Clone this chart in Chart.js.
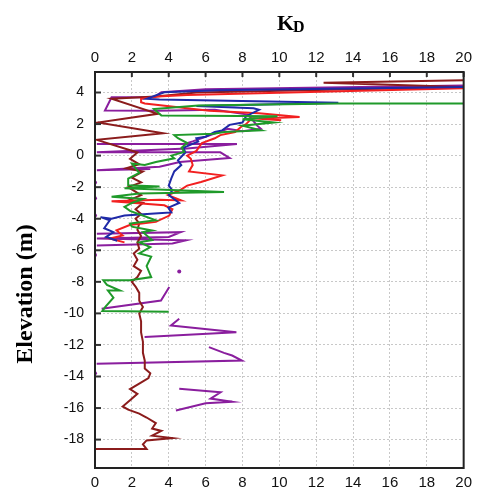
<!DOCTYPE html>
<html><head><meta charset="utf-8">
<script src="https://cdn.jsdelivr.net/npm/chart.js@4/dist/chart.umd.min.js"></script>
<style>html,body{margin:0;padding:0;background:#fff;}#wrap{position:relative;width:478px;height:491px;}</style>
</head><body><div id="wrap"><canvas id="c" width="478" height="491"></canvas></div>
<script>
const xTickValues = [0,2,4,6,8,10,12,14,16,18,20];
const yTickValues = [-18,-16,-14,-12,-10,-8,-6,-4,-2,0,2,4];
const xTitleMain = 'K';
const xTitleSub = 'D';
const yTitle = 'Elevation (m)';

const brownProfile = [[0,-18.6],[2.8,-18.6],[2.6,-18.3],[2.8,-18.05],[4.2,-17.9],[3.1,-17.75],[3.6,-17.45],[3.1,-17.3],[3.3,-16.95],[2.8,-16.6],[2.4,-16.35],[1.8,-16.1],[1.5,-15.9],[1.9,-15.5],[2.3,-15.1],[1.9,-14.8],[2.4,-14.45],[2.9,-14.1],[3.0,-13.8],[2.7,-13.5],[2.7,-13.0],[2.6,-12.5],[2.6,-11.8],[2.5,-11.2],[2.5,-10.5],[2.4,-10.0],[2.6,-9.6],[2.4,-9.2],[2.4,-8.7],[2.2,-8.3],[2.0,-8.0],[2.3,-7.7],[2.5,-7.3],[2.1,-7.0],[2.3,-6.6],[2.1,-6.2],[2.4,-5.9],[2.3,-5.5],[2.5,-5.1],[2.3,-4.7],[2.4,-4.3],[2.2,-4.0],[2.5,-3.7],[2.2,-3.4],[2.6,-3.0],[1.8,-2.85],[2.5,-2.5],[1.8,-2.0],[2.5,-1.7],[2.0,-1.4],[2.6,-1.0],[1.7,-0.8],[2.4,-0.55],[1.9,-0.2],[2.3,0.2],[0.1,1.0],[3.7,1.42],[0.15,2.1],[3.4,2.65],[0.9,3.6],[3.3,3.75],[5.5,4.0],[20,4.35],[12.4,4.62],[20,4.78]];

const blueProfile = [[1.2,-5.4],[0.6,-5.15],[1.0,-4.85],[0.5,-4.6],[0.8,-4.1],[0.3,-3.9],[0.9,-4.0],[1.6,-3.8],[3.44,-3.66],[4.14,-3.6],[3.98,-3.3],[4.57,-3.0],[4.0,-2.5],[4.2,-2.2],[4.0,-1.9],[4.14,-1.44],[4.3,-1.0],[4.68,-0.6],[4.5,-0.3],[4.9,0.2],[4.8,0.5],[5.2,0.7],[5.6,0.9],[5.5,1.1],[6.0,1.2],[6.5,1.5],[6.9,1.6],[7.3,1.95],[8.0,2.1],[8.2,2.5],[8.9,2.9],[8.6,3.0],[5.5,3.15],[13.2,3.35],[3.5,3.55],[2.8,3.6],[3.76,4.02],[6.7,4.15],[20,4.35]];

const redProfile = [[1.6,-5.5],[0.8,-5.25],[1.5,-5.06],[1.17,-4.74],[1.88,-4.4],[3.3,-4.2],[4.03,-3.8],[4.2,-3.4],[3.76,-3.15],[0.9,-2.9],[3.5,-2.8],[4.68,-2.84],[3.96,-2.5],[4.6,-2.2],[5.0,-1.9],[5.75,-1.67],[6.9,-1.25],[5.1,-1.0],[5.3,-0.6],[5.2,-0.2],[5.0,0.0],[5.5,0.3],[5.8,0.8],[6.5,1.1],[6.8,1.3],[7.6,1.5],[7.9,1.8],[8.2,2.0],[8.5,2.37],[10.1,2.24],[8.9,2.35],[11.1,2.45],[8.9,2.68],[6.2,2.85],[2.7,3.3],[2.5,3.38],[2.5,3.6],[3.4,3.75],[5.0,3.85],[20,4.27]];

const greenProfile = [[4.0,-9.9],[0.4,-9.85],[0.55,-9.6],[1.0,-9.0],[0.7,-8.55],[1.35,-8.55],[0.65,-8.2],[0.45,-7.9],[1.9,-7.9],[3.05,-7.7],[2.8,-7.0],[3.05,-6.4],[2.4,-6.2],[3.0,-5.8],[2.4,-5.5],[3.1,-5.35],[2.6,-4.85],[3.1,-4.75],[2.0,-4.5],[1.9,-4.3],[3.3,-4.1],[1.9,-3.5],[1.6,-3.25],[2.0,-3.0],[2.6,-2.75],[0.9,-2.6],[2.4,-2.4],[7.0,-2.3],[1.6,-2.07],[3.5,-1.95],[1.8,-1.88],[1.8,-1.45],[2.4,-1.1],[2.0,-0.5],[2.7,-0.6],[3.3,-0.4],[4.3,-0.17],[4.14,0.0],[4.84,0.23],[4.7,0.5],[5.0,0.8],[4.5,1.1],[4.3,1.3],[6.45,1.38],[7.0,1.5],[9.0,1.6],[8.0,1.9],[9.7,2.1],[8.0,2.3],[9.9,2.5],[3.6,2.54],[3.2,2.95],[5.6,3.17],[13.2,3.3],[20,3.3]];

const purpleProfile = [[20,4.45],[6.0,4.2],[3.6,4.02],[3.2,3.7],[0.9,3.7],[0.54,2.86],[3.4,2.85],[6.5,2.9],[8.3,2.6],[8.8,1.9],[9.0,1.7],[8.0,1.55],[7.2,1.7],[6.0,1.2],[5.3,0.9],[4.9,0.75],[0.1,0.74],[7.7,0.74],[5.0,0.45],[0.1,0.21],[6.8,0.21],[7.3,-0.15],[4.6,-0.4],[3.5,-0.7],[0.1,-0.93],[3.0,-0.85],
  null,[0.1,-4.95],[4.66,-4.85],[4.0,-5.16],[0.1,-5.26],[4.93,-5.37],[4.2,-5.57],[0.1,-5.69],
  null,[4.03,-8.33],[3.58,-9.18],[0.36,-9.7],
  null,[4.57,-10.34],[4.12,-10.77],[7.67,-11.19],[2.69,-11.5],
  null,[6.18,-12.14],[7.0,-12.5],[7.44,-12.67],[7.97,-12.99],[0.09,-13.2],
  null,[4.57,-14.78],[6.81,-15.0],[6.27,-15.4],[7.44,-15.6],[6.0,-15.7],[4.39,-16.15]];

const purpleDots = [[0,-1.7],[0,-2.7],[0,-3.8],[0,-6.3],[0,-13.8],[4.57,-7.34]];

const toPts = arr => arr.map(p => p ? {x:p[0], y:p[1]} : {x:NaN, y:NaN});
const lineSet = (data, color) => ({data: toPts(data), borderColor: color, backgroundColor: color, showLine: true, pointRadius: 0, borderWidth: 2, fill: false, tension: 0});

const sansFont = {family: 'Liberation Sans, Arial, sans-serif', size: 15};
const setTicks = vals => s => { s.ticks = vals.map(v => ({value: v})); };

const decor = {
  id: 'decor',
  afterDatasetsDraw(chart) {
    const {ctx, chartArea: a, scales} = chart;
    ctx.save();
    ctx.strokeStyle = '#333'; ctx.lineWidth = 2;
    xTickValues.forEach(v => { const px = scales.x.getPixelForValue(v); ctx.beginPath(); ctx.moveTo(px, a.top); ctx.lineTo(px, a.top + 5); ctx.stroke(); });
    yTickValues.forEach(v => { const py = scales.y.getPixelForValue(v); ctx.beginPath(); ctx.moveTo(a.left, py); ctx.lineTo(a.left + 6, py); ctx.stroke(); });
    ctx.strokeStyle = '#222'; ctx.lineWidth = 2;
    ctx.strokeRect(a.left, a.top, a.right - a.left, a.bottom - a.top);
    ctx.restore();
  },
  afterDraw(chart) {
    const {ctx} = chart;
    ctx.save();
    ctx.fillStyle = '#000';
    ctx.textBaseline = 'alphabetic'; ctx.textAlign = 'left';
    ctx.font = 'bold 22px "Liberation Serif", "Times New Roman", serif';
    ctx.fillText(xTitleMain, 277, 30);
    ctx.font = 'bold 16px "Liberation Serif", "Times New Roman", serif';
    ctx.fillText(xTitleSub, 293, 32);
    ctx.translate(32, 294); ctx.rotate(-Math.PI / 2);
    ctx.textAlign = 'center';
    ctx.font = 'bold 24px "Liberation Serif", "Times New Roman", serif';
    ctx.fillText(yTitle, 0, 0);
    ctx.restore();
  }
};

new Chart(document.getElementById('c'), {
  type: 'scatter',
  data: { datasets: [
    lineSet(greenProfile, '#1f9a2a'),
    lineSet(blueProfile, '#1f2aa8'),
    lineSet(redProfile, '#f22020'),
    lineSet(brownProfile, '#8b1c1c'),
    lineSet(purpleProfile, '#8a1e9e'),
    {data: toPts(purpleDots), showLine: false, pointRadius: 2, pointBorderWidth: 0, backgroundColor: '#8a1e9e', borderColor: '#8a1e9e'}
  ]},
  options: {
    responsive: false, animation: false, devicePixelRatio: 1,
    layout: {padding: {left: 0, right: 11, top: 0, bottom: 0}},
    plugins: {legend: {display: false}, tooltip: {enabled: false}, title: {display: false}},
    scales: {
      x: {type: 'linear', position: 'bottom', min: 0, max: 20,
          afterBuildTicks: setTicks(xTickValues), afterFit: s => { s.height = 23; },
          grid: {color: '#c8c8c8', lineWidth: 1, drawTicks: false},
          border: {display: false, dash: [2, 2]},
          ticks: {font: sansFont, color: '#111', padding: 6}},
      x2: {type: 'linear', position: 'top', min: 0, max: 20,
          afterBuildTicks: setTicks(xTickValues), afterFit: s => { s.height = 72; },
          grid: {display: false, drawTicks: false}, border: {display: false},
          ticks: {font: sansFont, color: '#111', padding: 5}},
      y: {type: 'linear', position: 'left', min: -19.8, max: 5.3,
          afterBuildTicks: setTicks(yTickValues), afterFit: s => { s.width = 95; },
          grid: {color: '#c8c8c8', lineWidth: 1, drawTicks: false},
          border: {display: false, dash: [2, 2]},
          ticks: {font: {family: 'Liberation Sans, Arial, sans-serif', size: 14}, color: '#111', padding: 11}}
    }
  },
  plugins: [decor]
});
</script></body></html>
